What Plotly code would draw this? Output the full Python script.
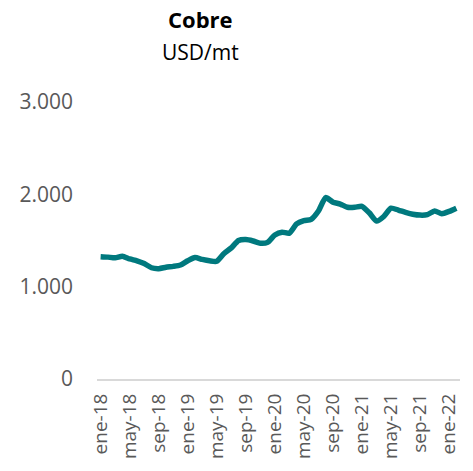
import plotly.graph_objects as go

# Data: monthly copper values, ene-18 .. feb-22
month_abbr = ["ene", "feb", "mar", "abr", "may", "jun", "jul", "ago", "sep", "oct", "nov", "dic"]
years = ["18", "19", "20", "21", "22"]
months = [f"{m}-{y}" for y in years for m in month_abbr][:50]

values = [1325, 1320, 1312, 1330, 1300, 1280, 1250, 1205, 1195, 1210,
          1220, 1235, 1280, 1315, 1295, 1280, 1275, 1360, 1420, 1500,
          1510, 1495, 1470, 1480, 1560, 1590, 1580, 1680, 1715, 1730,
          1820, 1965, 1915, 1895, 1860, 1860, 1870, 1800, 1710, 1760,
          1850, 1830, 1805, 1785, 1775, 1780, 1820, 1790, 1815, 1850]

tick_labels = months[::4]
y_ticks = [0, 1000, 2000, 3000]

W, H = 473, 471
L, R, T, B = 97, 12, 102, 90
pw, ph = W - L - R, H - T - B

def px_x(x):
    return (x - L) / pw

def px_y(y):
    return (H - B - y) / ph

font = "Open Sans"
fig = go.Figure()
fig.add_trace(go.Scatter(
    x=months, y=values, mode="lines",
    line=dict(color="#00797E", width=5.5, shape="spline", smoothing=0.6),
    hoverinfo="skip", showlegend=False,
))

fig.update_layout(
    width=W, height=H,
    margin=dict(l=L, r=R, t=T, b=B, pad=0),
    paper_bgcolor="white", plot_bgcolor="white",
    separators=",.",
    font=dict(family=font, color="#595959"),
    xaxis=dict(
        type="category", categoryorder="array", categoryarray=months,
        tickmode="array", tickvals=tick_labels, ticktext=tick_labels,
        tickangle=-90, tickfont=dict(size=19, color="#595959", family=font),
        showgrid=False, zeroline=False,
        showline=True, linecolor="#D9D9D9", linewidth=2,
        ticks="", ticklabelstandoff=5,
        range=[-0.5, len(months) - 0.5],
    ),
    yaxis=dict(
        range=[0, 3000], tickvals=y_ticks, tickformat=",d",
        tickfont=dict(size=21, color="#595959", family=font),
        showgrid=False, zeroline=False, showline=False,
        ticks="", ticklabelstandoff=23,
    ),
    annotations=[
        dict(text="<b>Cobre</b>", x=px_x(201), y=px_y(18), xref="paper", yref="paper",
             showarrow=False, xanchor="center", yanchor="middle",
             font=dict(size=22, color="black", family=font)),
        dict(text="USD/mt", x=px_x(201), y=px_y(52), xref="paper", yref="paper",
             showarrow=False, xanchor="center", yanchor="middle",
             font=dict(size=21, color="black", family=font)),
    ],
)

fig.write_html("out.html")
